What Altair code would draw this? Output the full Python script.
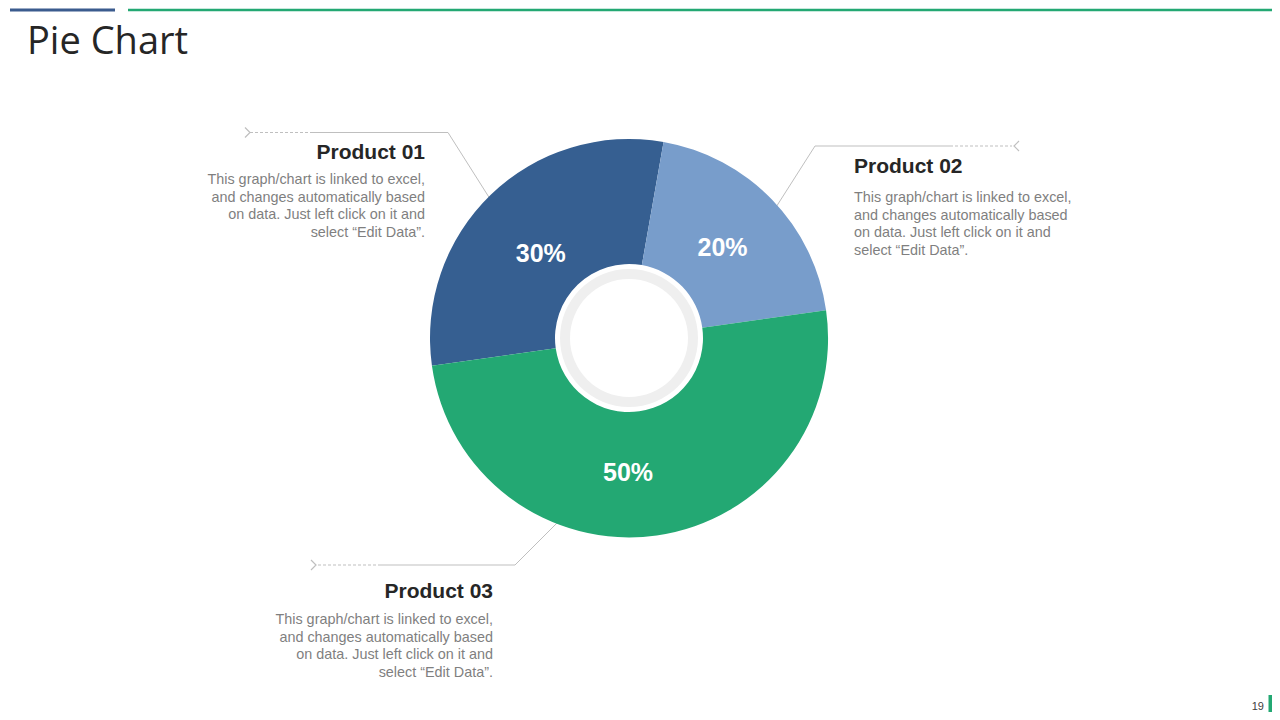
import math
import altair as alt
import pandas as pd

# ---- data ----
categories = ["Product 01", "Product 02", "Product 03"]
shares = [30, 20, 50]
labels = ["30%", "20%", "50%"]
slice_colors = ["#365F91", "#789DCB", "#23A873"]
description = ("This graph/chart is linked to excel,\nand changes automatically based\n"
               "on data. Just left click on it and\nselect \u201cEdit Data\u201d.")
title_text = "Pie Chart"
page_number = "19"

W, H = 1264, 704
OFF_X, OFF_Y = 10, 8  # chart coords = reference coords - offset


def px(v):
    return v - OFF_X


def py(v):
    return v - OFF_Y


CX, CY = px(629), py(337)
GREY = "#BFBFBF"

pie_df = pd.DataFrame({"category": categories, "share": shares,
                       "label": labels, "order": [0, 1, 2]})

start = math.radians(262)
theta_scale = alt.Scale(range=[start, start + 2 * math.pi])
color_scale = alt.Scale(domain=categories, range=slice_colors)

base = alt.Chart(pie_df).encode(
    theta=alt.Theta("share:Q", stack=True, scale=theta_scale),
    order=alt.Order("order:Q"),
    x=alt.value(CX), y=alt.value(CY),
)

pie = base.mark_arc(outerRadius=199, innerRadius=74).encode(
    color=alt.Color("category:N", scale=color_scale, legend=None)
)


def pct_label(cat, radius, offset_deg):
    return base.mark_text(radius=radius, thetaOffset=math.radians(offset_deg),
                          font="Liberation Sans", fontSize=25, fontWeight="bold",
                          color="white", align="center", baseline="middle").encode(
        text=alt.condition(alt.datum.category == cat, "label:N", alt.value(""))
    )


pct_layers = [pct_label(categories[0], 122, -2.3),
              pct_label(categories[1], 130, 0),
              pct_label(categories[2], 135, 8.4)]

one = alt.Chart(pd.DataFrame({"a": [0]}))

ring = one.mark_arc(innerRadius=59, outerRadius=69, theta=0, theta2=2 * math.pi,
                    color="#EFEFEF").encode(x=alt.value(CX), y=alt.value(CY))

# ---- decorations: leader lines ----
solid = pd.DataFrame({
    "x":  [px(312), px(448), px(815), px(815), px(378), px(515)],
    "y":  [py(131.5), py(131.5), py(145), py(145), py(564), py(564)],
    "x2": [px(448), px(492), px(950), px(771), px(515), px(560)],
    "y2": [py(131.5), py(201), py(145), py(214), py(564), py(519)],
})
dashed = pd.DataFrame({
    "x":  [px(250), px(950), px(318)],
    "y":  [py(131.5), py(145), py(564)],
    "x2": [px(312), px(1012), px(378)],
    "y2": [py(131.5), py(145), py(564)],
})
seg_enc = dict(x=alt.X("x:Q", scale=None), y=alt.Y("y:Q", scale=None),
               x2="x2:Q", y2="y2:Q")
solid_lines = alt.Chart(solid).mark_rule(color=GREY, strokeWidth=1).encode(**seg_enc)
dashed_lines = alt.Chart(dashed).mark_rule(color=GREY, strokeWidth=1,
                                           strokeDash=[3, 2]).encode(**seg_enc)

chev_r = pd.DataFrame({"x": [px(248), px(314)], "y": [py(131.5), py(564)]})
chev_l = pd.DataFrame({"x": [px(1016)], "y": [py(145)]})
chevron_right = alt.Chart(chev_r).mark_point(
    shape="M-0.6,-1L0.4,0L-0.6,1", size=100, filled=False, color=GREY, strokeWidth=1.2, opacity=1
).encode(x=alt.X("x:Q", scale=None), y=alt.Y("y:Q", scale=None))
chevron_left = alt.Chart(chev_l).mark_point(
    shape="M0.6,-1L-0.4,0L0.6,1", size=100, filled=False, color=GREY, strokeWidth=1.2, opacity=1
).encode(x=alt.X("x:Q", scale=None), y=alt.Y("y:Q", scale=None))


# ---- text blocks ----
def heading(txt, x, y, align):
    return one.mark_text(text=txt, font="Liberation Sans", fontSize=21, fontWeight="bold",
                         color="#262626", align=align, baseline="alphabetic").encode(
        x=alt.value(px(x)), y=alt.value(py(y)))


def desc(x, y, align):
    return one.mark_text(text=description, lineBreak="\n", lineHeight=17.6,
                         font="Liberation Sans", fontSize=14.4, color="#7F7F7F",
                         align=align, baseline="alphabetic").encode(
        x=alt.value(px(x)), y=alt.value(py(y)))


texts = [
    heading(categories[0], 425, 157.5, "right"), desc(425, 183, "right"),
    heading(categories[1], 854, 172, "left"), desc(854, 201, "left"),
    heading(categories[2], 493, 596.5, "right"), desc(493, 623, "right"),
]

title = one.mark_text(text=title_text, font="Open Sans", fontSize=38, fontWeight="normal",
                      color="#262626", align="left", baseline="alphabetic").encode(
    x=alt.value(px(27)), y=alt.value(py(53)))

top_blue = one.mark_rule(color="#3B5B8E", strokeWidth=3).encode(
    x=alt.value(0), x2=alt.value(px(115)), y=alt.value(1))
top_green = one.mark_rule(color="#23A873", strokeWidth=2.5).encode(
    x=alt.value(px(128)), x2=alt.value(W), y=alt.value(1))

page_no = one.mark_text(text=page_number, font="Liberation Sans", fontSize=11,
                        color="#404040", align="right", baseline="alphabetic").encode(
    x=alt.value(W - 10), y=alt.value(py(709)))
side_bar = one.mark_rule(color="#23A873", strokeWidth=5).encode(
    x=alt.value(W - 3), y=alt.value(py(694)), y2=alt.value(H))

chart = alt.layer(
    top_blue, top_green, title,
    solid_lines, dashed_lines, chevron_right, chevron_left,
    pie, ring, *pct_layers,
    *texts,
    page_no, side_bar,
).properties(
    width=W, height=H, padding=0, background="white",
    autosize=alt.AutoSizeParams(type="fit", contains="padding"),
).configure_view(strokeWidth=0, stroke="transparent")

chart.save("out.html", embed_options={"renderer": "svg", "actions": False})
